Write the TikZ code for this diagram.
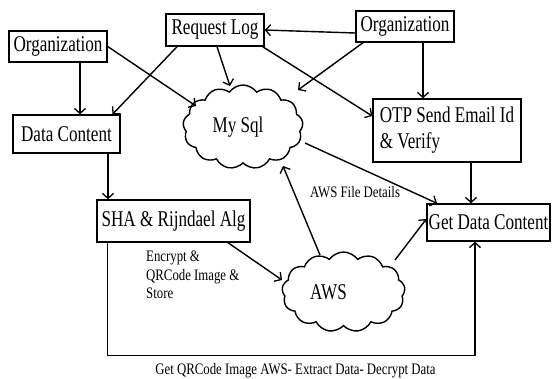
\documentclass[tikz,border=0pt]{standalone}
\usepackage{fontspec}
\setmainfont{Liberation Serif}
\newfontfamily\boxfont{Liberation Serif}[FakeStretch=0.76]
\newfontfamily\lblfont{Liberation Serif}[FakeStretch=0.8]
\usetikzlibrary{shapes.symbols,arrows.meta,calc}
\begin{document}
\begin{tikzpicture}[x=1pt,y=-1pt,
  box/.style={draw,line width=1.4pt,rectangle,inner sep=0pt,font=\boxfont\fontsize{22.5}{26}\selectfont},
  cld/.style={draw,line width=1.4pt,cloud,cloud puffs=13,cloud puff arc=110,cloud ignores aspect,inner sep=0pt,font=\boxfont\fontsize{22.5}{26}\selectfont},
  lbl/.style={inner sep=0pt,font=\lblfont\fontsize{16}{18.5}\selectfont},
  arr/.style={line width=1.4pt,-{Straight Barb[length=5pt,width=11pt,line width=1.3pt]}}]
\useasboundingbox (0,0) rectangle (553,378);
\node[box,minimum width=98pt,minimum height=31pt] (orgL) at (58,46.5) {Organization};
\node[box,minimum width=98pt,minimum height=32pt] (rl) at (215,30) {Request Log};
\node[box,minimum width=107pt,minimum height=38pt] (dc) at (66.5,134) {Data Content};
\node[box,minimum width=98pt,minimum height=31pt] (orgR) at (405,26.5) {Organization};
\node[box,minimum width=148pt,minimum height=63pt,align=left] (otp) at (447,130.5) {OTP Send Email Id\\\& Verify};
\node[box,minimum width=153pt,minimum height=42pt] (sha) at (173.5,221) {SHA \& Rijndael Alg};
\node[box,minimum width=123pt,minimum height=37pt] (gdc) at (488.5,222.5) {Get Data Content};
\node[cld,minimum width=120pt,minimum height=84pt] (mysql) at (243,127) {My Sql\hspace*{10pt}};
\node[cld,minimum width=123pt,minimum height=80pt] (aws) at (343.5,292) {AWS\hspace*{30pt}};
\node[lbl,align=left,anchor=west] (enc) at (146,275) {Encrypt \&\\QRCode Image \&\\Store};
\node[lbl] (fd) at (355,192) {AWS File Details};
\node[lbl] (bot) at (295.5,371) {Get QRCode Image AWS- Extract Data- Decrypt Data};
% connectors
\draw[arr] ($(orgL.south)+(22,0)$) -- ($(dc.north)+(13.5,0)$);
\draw[arr] (orgL.east) -- ($(mysql)+(-47,-21)$);
\draw[arr] ($(rl.south)+(-38,0)$) -- ($(dc.north)+(46,0)$);
\draw[arr] ($(rl.south)+(2,0)$) -- ($(mysql)+(-13,-41)$);
\draw[arr] ($(rl.south east)+(-2,0)$) -- ($(otp.west)+(0,-14.5)$);
\draw[arr] ($(orgR.west)+(0,6.5)$) -- (rl.east);
\draw[arr] ($(orgR.south)+(-42,0)$) -- ($(mysql)+(55,-37)$);
\draw[arr] ($(orgR.south)+(18,0)$) -- ($(otp.north)+(-24,0)$);
\draw[arr] ($(otp.south)+(24,0)$) -- ($(gdc.north)+(-17.5,0)$);
\draw[arr] ($(mysql)+(62,16)$) -- ($(gdc.north)+(-51.5,0)$);
\draw[arr] ($(dc.south)+(41.5,0)$) -- ($(sha.north)+(-65.5,0)$);
\draw[arr] ($(sha.south)+(54.5,0)$) -- ($(aws)+(-61.5,-12)$);
\draw[arr] ($(aws)+(-23.5,-37)$) -- ($(mysql)+(40,39)$);
\draw[arr] ($(aws)+(51.5,-32)$) -- ($(gdc.west)+(0,-3.5)$);
\draw[arr] ($(sha.south west)+(11,0)$) |- ($(gdc.south)+(-13.5,114)$) -- ($(gdc.south)+(-13.5,0)$);
\end{tikzpicture}
\end{document}
